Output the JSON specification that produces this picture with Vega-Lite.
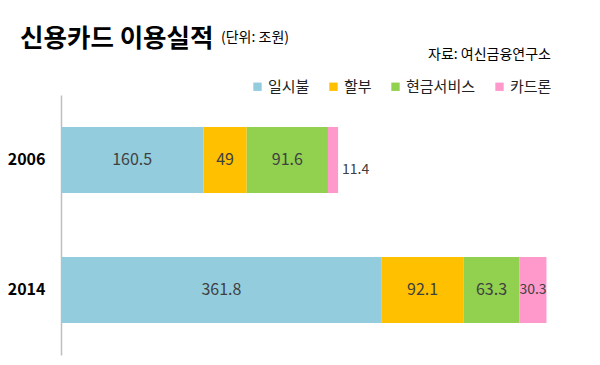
{
  "$schema": "https://vega.github.io/schema/vega-lite/v6.json",
  "autosize": {"type": "none"},
  "width": 532,
  "height": 260,
  "padding": {"left": 61, "top": 95, "right": 7, "bottom": 10},
  "background": "white",
  "config": {"view": {"stroke": null}, "font": "Noto Sans CJK KR"},
  "title": {
    "text": "신용카드 이용실적",
    "anchor": "start",
    "frame": "group",
    "fontSize": 25.5,
    "fontWeight": "bold",
    "color": "#000000",
    "font": "Noto Sans CJK KR",
    "dx": -41,
    "dy": 25
  },
  "data": {
    "values": [
      {"year": "2006", "cat": "일시불", "k": 1, "value": 160.5},
      {"year": "2006", "cat": "할부", "k": 2, "value": 49},
      {"year": "2006", "cat": "현금서비스", "k": 3, "value": 91.6},
      {"year": "2006", "cat": "카드론", "k": 4, "value": 11.4},
      {"year": "2014", "cat": "일시불", "k": 1, "value": 361.8},
      {"year": "2014", "cat": "할부", "k": 2, "value": 92.1},
      {"year": "2014", "cat": "현금서비스", "k": 3, "value": 63.3},
      {"year": "2014", "cat": "카드론", "k": 4, "value": 30.3}
    ]
  },
  "transform": [
    {"stack": "value", "groupby": ["year"], "sort": [{"field": "k"}], "as": ["x0", "x1"]},
    {"calculate": "(datum.x0 + datum.x1) / 2", "as": "mid"}
  ],
  "encoding": {
    "y": {
      "field": "year",
      "type": "nominal",
      "sort": ["2006", "2014"],
      "scale": {"paddingInner": 0, "paddingOuter": 0},
      "axis": {
        "title": null,
        "ticks": false,
        "domainColor": "#bfbfbf",
        "domainWidth": 1.5,
        "labelFontSize": 16,
        "labelFontWeight": "bold",
        "labelColor": "#000000",
        "labelPadding": 16,
        "grid": false
      }
    }
  },
  "layer": [
    {
      "mark": {"type": "bar", "size": 66},
      "encoding": {
        "x": {"field": "x0", "type": "quantitative", "scale": {"domain": [0, 600]}, "axis": null},
        "x2": {"field": "x1"},
        "color": {
          "field": "cat",
          "type": "nominal",
          "scale": {
            "domain": ["일시불", "할부", "현금서비스", "카드론"],
            "range": ["#93CDDD", "#FFC000", "#92D050", "#FF99CC"]
          },
          "legend": {
            "title": null,
            "orient": "none",
            "direction": "horizontal",
            "legendX": 189,
            "legendY": -16,
            "symbolType": "square",
            "symbolSize": 70,
            "symbolStrokeWidth": 0,
            "labelFontSize": 15,
            "labelColor": "#222222",
            "labelOffset": 3,
            "columnPadding": 16
          }
        }
      }
    },
    {
      "transform": [{"filter": "datum.cat != '카드론'"}],
      "mark": {"type": "text", "fontSize": 16, "color": "#404040", "baseline": "middle"},
      "encoding": {
        "x": {"field": "mid", "type": "quantitative"},
        "text": {"field": "value", "type": "quantitative"}
      }
    },
    {
      "transform": [{"filter": "datum.year == '2014' && datum.cat == '카드론'"}],
      "mark": {"type": "text", "fontSize": 14, "color": "#404040", "baseline": "middle"},
      "encoding": {
        "x": {"field": "mid", "type": "quantitative"},
        "text": {"field": "value", "type": "quantitative"}
      }
    },
    {
      "transform": [{"filter": "datum.year == '2006' && datum.cat == '카드론'"}],
      "mark": {"type": "text", "fontSize": 14, "color": "#404040", "baseline": "middle", "align": "left", "dx": 4, "dy": 10},
      "encoding": {
        "x": {"field": "x1", "type": "quantitative"},
        "text": {"field": "value", "type": "quantitative"}
      }
    },
    {
      "data": {"values": [{"t": "(단위: 조원)"}]},
      "mark": {"type": "text", "fontSize": 14, "color": "#000000", "align": "left", "baseline": "alphabetic"},
      "encoding": {
        "x": {"value": 160},
        "y": {"value": -53},
        "text": {"field": "t"}
      }
    },
    {
      "data": {"values": [{"t": "자료: 여신금융연구소"}]},
      "mark": {"type": "text", "fontSize": 14, "color": "#000000", "align": "left", "baseline": "alphabetic"},
      "encoding": {
        "x": {"value": 367},
        "y": {"value": -36},
        "text": {"field": "t"}
      }
    }
  ]
}
